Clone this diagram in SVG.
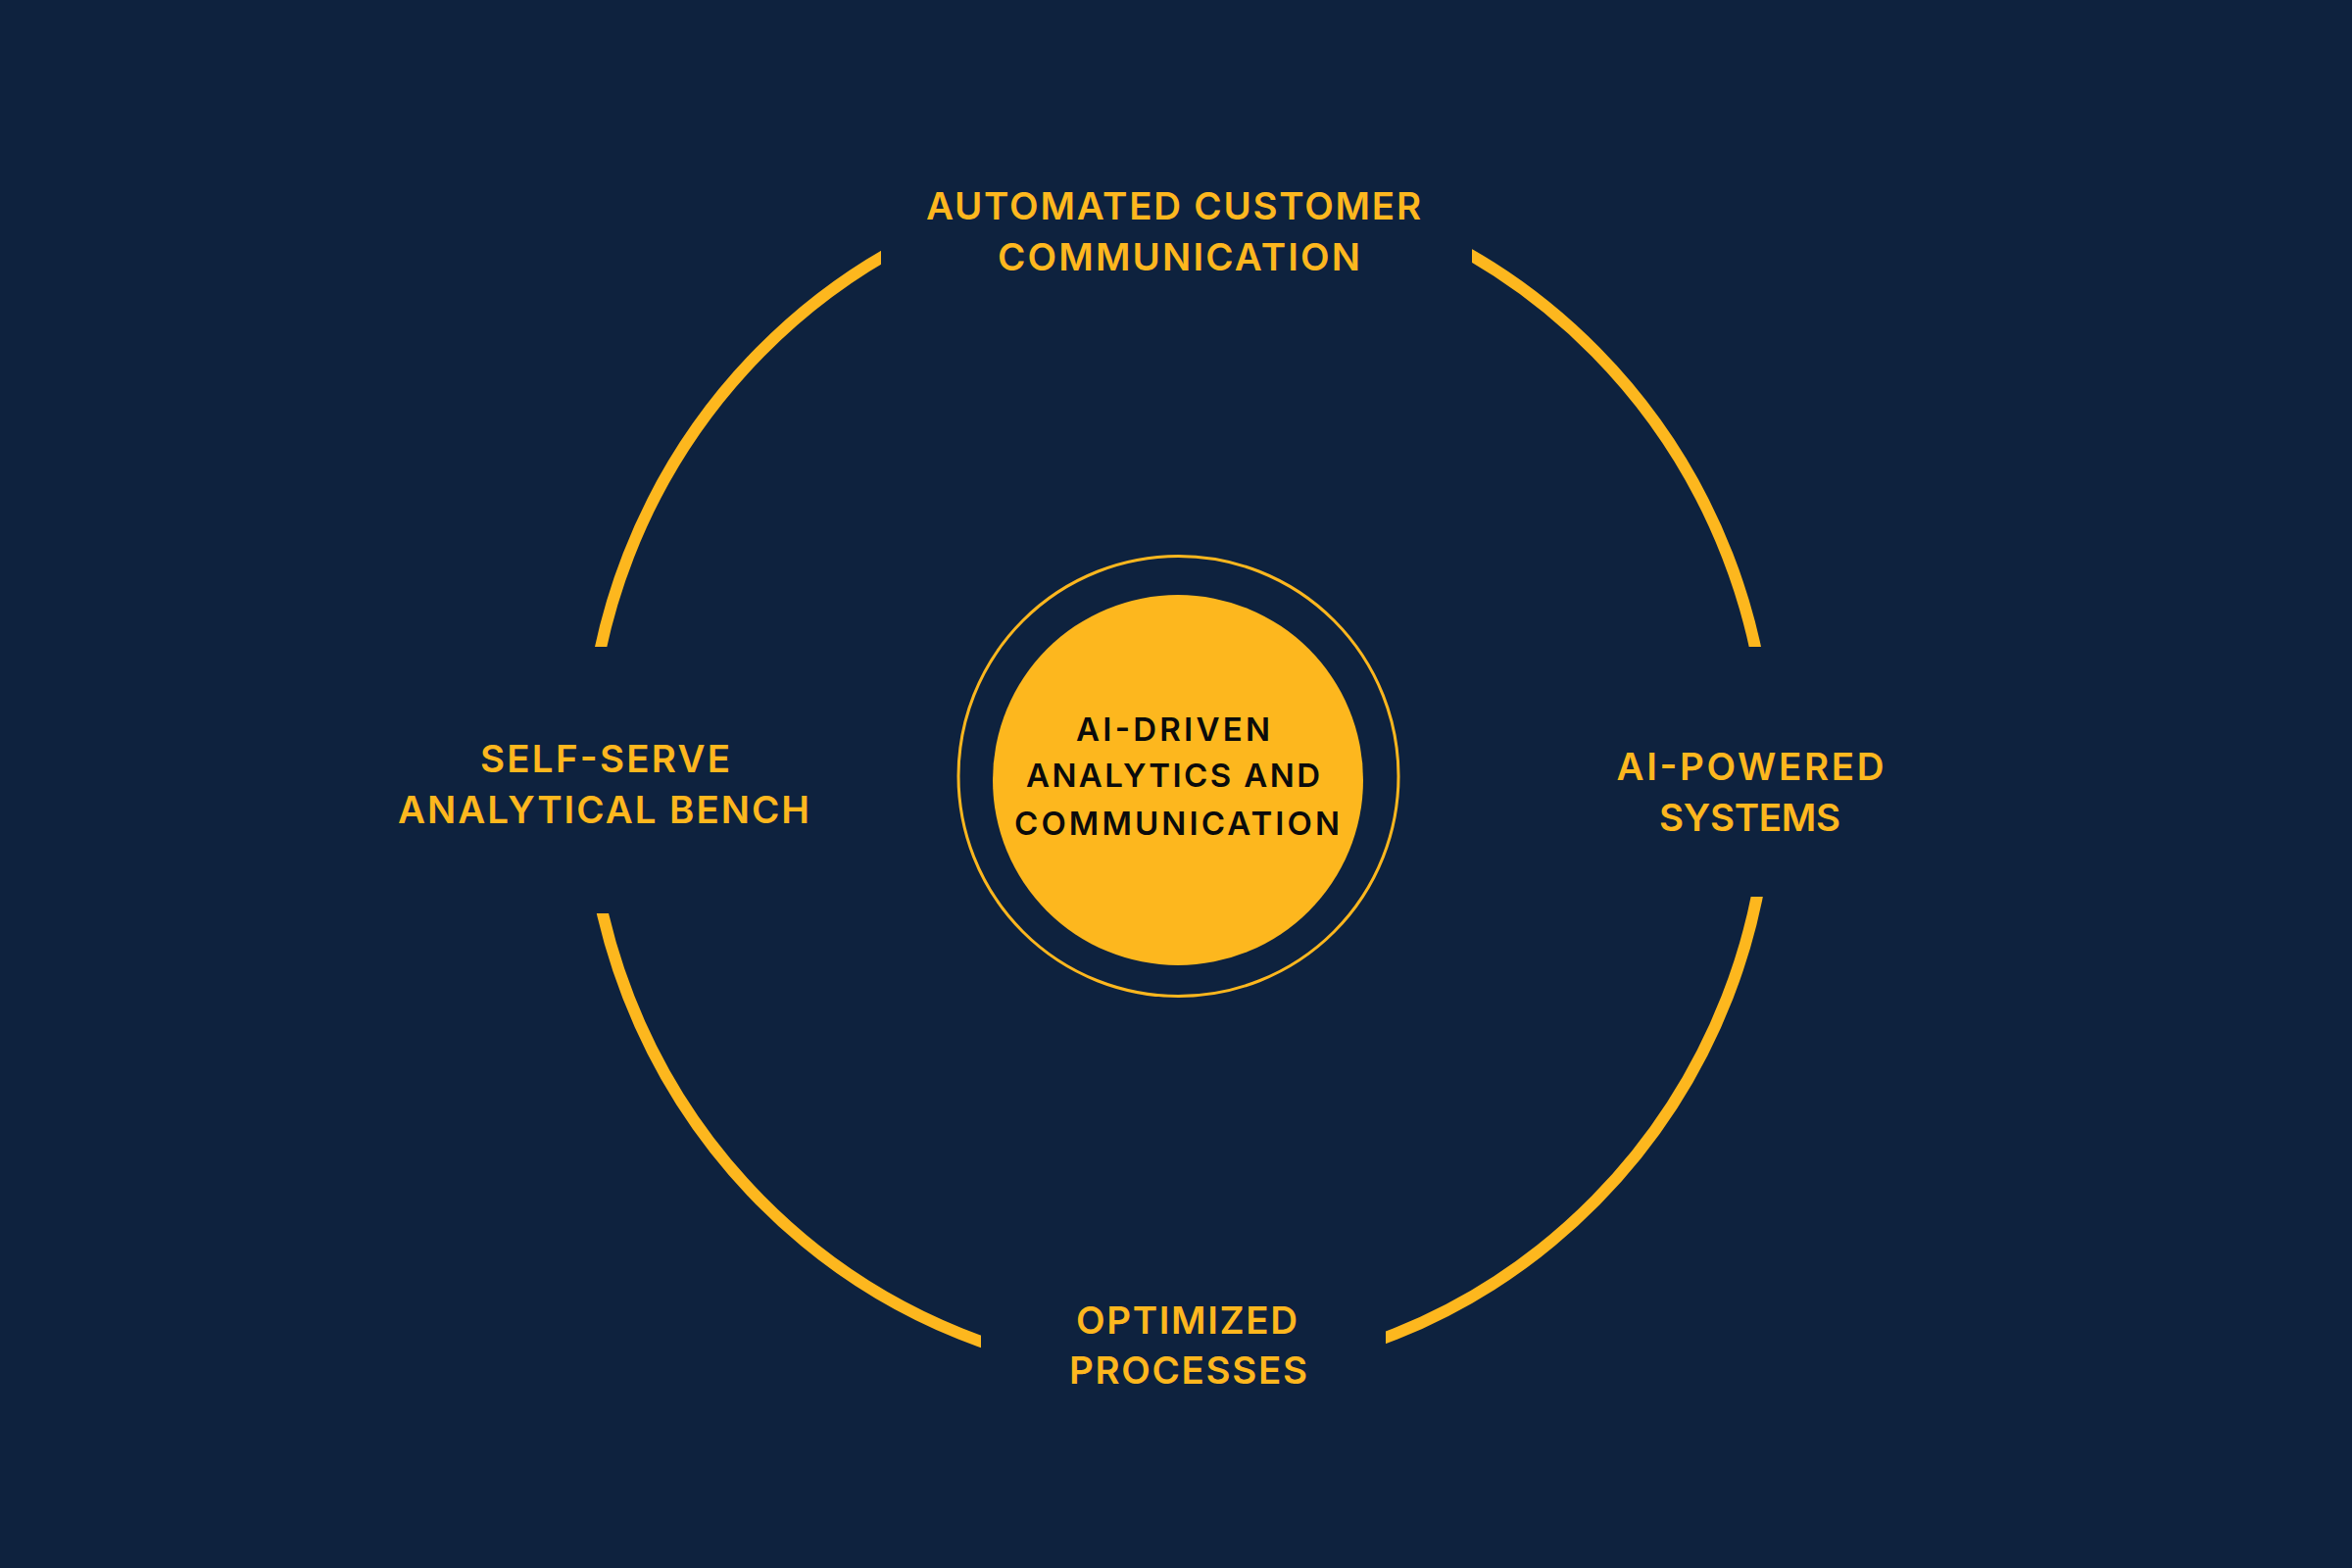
<svg xmlns="http://www.w3.org/2000/svg" width="2400" height="1600" viewBox="0 0 2400 1600">
  <style>
    .lbl { font-family: Inter, "Noto Sans", "Liberation Sans", sans-serif; font-weight: 600; font-size: 38.5px; fill: #FDB71E; text-anchor: middle; }
    .ctr { font-family: Inter, "Noto Sans", "Liberation Sans", sans-serif; font-weight: 600; font-size: 33px; fill: #0B0B0B; text-anchor: middle; }
  </style>
  <defs>
    <mask id="gaps" maskUnits="userSpaceOnUse" x="0" y="0" width="2400" height="1600">
      <rect x="0" y="0" width="2400" height="1600" fill="#fff"/>
      <rect x="899" y="0" width="603" height="500" fill="#000"/>
      <rect x="1001" y="1100" width="413" height="500" fill="#000"/>
      <rect x="0" y="660" width="800" height="272" fill="#000"/>
      <rect x="1600" y="660" width="800" height="255" fill="#000"/>
    </mask>
  </defs>
  <rect x="0" y="0" width="2400" height="1600" fill="#0E223E"/>

  <g id="connectors">
    <ellipse cx="1202" cy="792" rx="603" ry="612" fill="none" stroke="#FDB71E" stroke-width="12" mask="url(#gaps)"/>
  </g>

  <g id="center-node">
    <circle cx="1202.5" cy="792" r="224.5" fill="none" stroke="#FDB71E" stroke-width="3"/>
    <circle cx="1202" cy="796" r="189" fill="#FDB71E"/>
    <text class="ctr" x="1197" y="756" textLength="198" lengthAdjust="spacing">AI-DRIVEN</text>
    <text class="ctr" x="1197" y="803" textLength="300" lengthAdjust="spacing">ANALYTICS AND</text>
    <text class="ctr" x="1201" y="852" textLength="332" lengthAdjust="spacing">COMMUNICATION</text>
  </g>

  <g id="node-top">
    <text class="lbl" x="1197.5" y="224" textLength="505" lengthAdjust="spacing">AUTOMATED CUSTOMER</text>
    <text class="lbl" x="1203" y="276" textLength="370" lengthAdjust="spacing">COMMUNICATION</text>
  </g>

  <g id="node-right">
    <text class="lbl" x="1786" y="796" textLength="273" lengthAdjust="spacing">AI-POWERED</text>
    <text class="lbl" x="1785.5" y="848" textLength="185" lengthAdjust="spacing">SYSTEMS</text>
  </g>

  <g id="node-bottom">
    <text class="lbl" x="1211" y="1361" textLength="226" lengthAdjust="spacing">OPTIMIZED</text>
    <text class="lbl" x="1212.5" y="1412" textLength="243" lengthAdjust="spacing">PROCESSES</text>
  </g>

  <g id="node-left">
    <text class="lbl" x="617.5" y="788" textLength="255" lengthAdjust="spacing">SELF-SERVE</text>
    <text class="lbl" x="616" y="840" textLength="420" lengthAdjust="spacing">ANALYTICAL BENCH</text>
  </g>
</svg>
